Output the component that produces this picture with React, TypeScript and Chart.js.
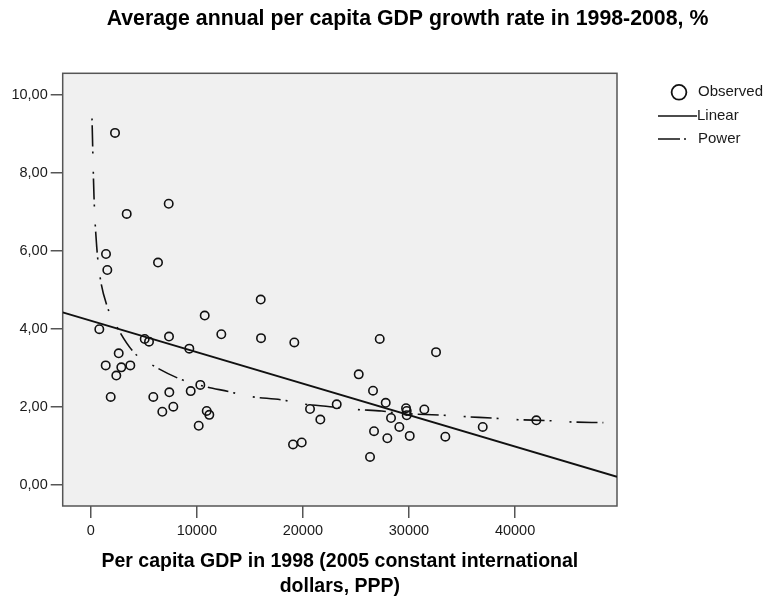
import { useEffect, useRef } from "react";
import { Chart, registerables } from "chart.js";

Chart.register(...registerables);

const chartTitle = "Average annual per capita GDP growth rate in 1998-2008, %";
const xAxisTitle = ["Per capita GDP in 1998 (2005 constant international", "dollars, PPP)"];
const seriesLabels = ["Observed", "Linear", "Power"];

const xTicks = [0, 10000, 20000, 30000, 40000];
const xTickLabels = ["0", "10000", "20000", "30000", "40000"];
const yTicks = [0, 2, 4, 6, 8, 10];
const yTickLabels = ["0,00", "2,00", "4,00", "6,00", "8,00", "10,00"];

// Observed: per capita GDP 1998 vs average annual growth rate
const observedGdp = [
  2291, 3394, 7353, 1442, 1565, 6344, 16026, 10747, 811, 5091,
  5496, 7381, 9295, 12312, 16054, 19193, 2640, 1414, 2885, 3733,
  2413, 1885, 5901, 7410, 9427, 10332, 6750, 7787, 10935, 11180,
  10181, 19071, 19891, 20673, 21645, 27244, 32551, 25264, 26612, 27809,
  23190, 29724, 29789, 29789, 31448, 28309, 29092, 26707, 27961, 30072,
  33429, 36954, 42007, 26330,
];
const observedGrowth = [
  9.03, 6.95, 7.21, 5.92, 5.51, 5.70, 4.75, 4.34, 3.99, 3.74,
  3.67, 3.80, 3.49, 3.86, 3.76, 3.65, 3.37, 3.06, 3.01, 3.06,
  2.80, 2.25, 2.25, 2.37, 2.40, 2.56, 1.87, 2.00, 1.89, 1.79,
  1.51, 1.03, 1.08, 1.94, 1.67, 3.74, 3.40, 2.83, 2.41, 2.10,
  2.06, 1.96, 1.89, 1.78, 1.93, 1.71, 1.48, 1.37, 1.19, 1.25,
  1.23, 1.48, 1.65, 0.71,
];

// Linear fit line, read at the plot edges
const linearGdp = [-2640, 49610];
const linearGrowth = [4.42, 0.2];

// Power fit curve
const powerGdp = [
  123, 311, 566, 877, 1508, 2291, 4016, 5430, 8418, 10587,
  13132, 14829, 18128, 20013, 22558, 24915, 27433, 28846, 33240, 34974,
  38274, 40000, 43298, 45024, 48323,
];
const powerGrowth = [
  9.4, 7.39, 6.11, 5.34, 4.61, 4.14, 3.41, 3.13, 2.71, 2.53,
  2.38, 2.27, 2.17, 2.07, 2.0, 1.93, 1.89, 1.84, 1.78, 1.75,
  1.7, 1.67, 1.64, 1.61, 1.59,
];

const FONT = "'Liberation Sans', Arial, Helvetica, sans-serif";
const AXIS_COLOR = "#555555";
const TEXT_COLOR = "#1a1a1a";
const POWER_DASH = [2, 5, 21, 5, 2, 18];

const decorPlugin = {
  id: "decor",
  beforeDraw(chart: any) {
    const { ctx, chartArea: a } = chart;
    ctx.save();
    ctx.fillStyle = "#ffffff";
    ctx.fillRect(0, 0, chart.width, chart.height);
    ctx.fillStyle = "#f0f0f0";
    ctx.fillRect(a.left, a.top, a.right - a.left, a.bottom - a.top);
    ctx.restore();
  },
  beforeDatasetsDraw(chart: any) {
    const { ctx, chartArea: a } = chart;
    ctx.save();
    ctx.strokeStyle = AXIS_COLOR;
    ctx.lineWidth = 1.5;
    ctx.strokeRect(a.left, a.top, a.right - a.left, a.bottom - a.top);
    ctx.restore();
  },
  afterDraw(chart: any) {
    const { ctx, chartArea: a } = chart;
    ctx.save();
    // main title
    ctx.fillStyle = "#000";
    ctx.font = `bold 21.3px ${FONT}`;
    ctx.textAlign = "center";
    ctx.textBaseline = "alphabetic";
    ctx.fillText(chartTitle, 407.5, 25);

    // legend
    const ds = chart.data.datasets;
    ctx.font = `15px ${FONT}`;
    ctx.textAlign = "left";
    ctx.textBaseline = "middle";
    ctx.fillStyle = TEXT_COLOR;
    const tx = a.right + 81;
    // Observed
    const y0 = a.top + 19;
    ctx.strokeStyle = "#111";
    ctx.lineWidth = 1.8;
    ctx.beginPath();
    ctx.arc(a.right + 62, y0, 7.4, 0, Math.PI * 2);
    ctx.stroke();
    ctx.fillText(ds[0].label, tx, y0);
    // Linear
    const y1 = a.top + 42.7;
    ctx.lineWidth = 1.6;
    ctx.beginPath();
    ctx.moveTo(a.right + 41, y1);
    ctx.lineTo(a.right + 80, y1);
    ctx.stroke();
    ctx.fillText(ds[1].label, tx - 1, y1);
    // Power
    const y2 = a.top + 65.7;
    ctx.setLineDash([22, 4, 2, 100]);
    ctx.beginPath();
    ctx.moveTo(a.right + 41, y2);
    ctx.lineTo(a.right + 71, y2);
    ctx.stroke();
    ctx.setLineDash([]);
    ctx.fillText(ds[2].label, tx, y2);
    ctx.restore();
  },
};

export default function App() {
  const canvasRef = useRef<HTMLCanvasElement | null>(null);

  useEffect(() => {
    if (!canvasRef.current) return;
    const observed = observedGdp.map((x, i) => ({ x, y: observedGrowth[i] }));
    const linear = linearGdp.map((x, i) => ({ x, y: linearGrowth[i] }));
    const power = powerGdp.map((x, i) => ({ x, y: powerGrowth[i] }));

    const chart = new Chart(canvasRef.current, {
      type: "scatter",
      data: {
        datasets: [
          {
            label: seriesLabels[0],
            data: observed,
            pointRadius: 4.2,
            pointBorderWidth: 1.6,
            pointBorderColor: "#111",
            pointBackgroundColor: "rgba(0,0,0,0)",
            showLine: false,
            order: 0,
          },
          {
            label: seriesLabels[1],
            data: linear,
            showLine: true,
            pointRadius: 0,
            borderColor: "#111",
            borderWidth: 1.8,
            order: 1,
          },
          {
            label: seriesLabels[2],
            data: power,
            showLine: true,
            pointRadius: 0,
            borderColor: "#111",
            borderWidth: 1.6,
            borderDash: POWER_DASH,
            cubicInterpolationMode: "monotone",
            order: 2,
          },
        ],
      } as any,
      options: {
        animation: false,
        responsive: true,
        maintainAspectRatio: false,
        layout: { padding: { top: 73.3, right: 148, left: 0, bottom: 0 } },
        plugins: {
          legend: { display: false },
          tooltip: { enabled: false },
          title: { display: false },
        },
        scales: {
          x: {
            type: "linear",
            min: -2640,
            max: 49610,
            afterFit: (s: any) => {
              s.height = 93;
            },
            afterBuildTicks: (s: any) => {
              s.ticks = xTicks.map((v) => ({ value: v }));
            },
            ticks: {
              autoSkip: false,
              maxRotation: 0,
              padding: 4,
              color: TEXT_COLOR,
              font: { family: FONT, size: 14.5 },
              callback: (v: any) => xTickLabels[xTicks.indexOf(Number(v))] ?? "",
            },
            grid: {
              display: true,
              drawOnChartArea: false,
              drawTicks: true,
              tickLength: 12,
              color: AXIS_COLOR,
              lineWidth: 1.5,
            },
            border: { display: false },
            title: {
              display: true,
              text: xAxisTitle,
              color: "#000",
              font: { family: FONT, size: 19.5, weight: "bold", lineHeight: 1.28 },
              padding: { top: 0, bottom: 0 },
            },
          },
          y: {
            type: "linear",
            min: -0.55,
            max: 10.56,
            afterFit: (s: any) => {
              s.width = 62.7;
            },
            afterBuildTicks: (s: any) => {
              s.ticks = yTicks.map((v) => ({ value: v }));
            },
            ticks: {
              autoSkip: false,
              padding: 3,
              color: TEXT_COLOR,
              font: { family: FONT, size: 14.5 },
              callback: (v: any) => yTickLabels[yTicks.indexOf(Number(v))] ?? "",
            },
            grid: {
              display: true,
              drawOnChartArea: false,
              drawTicks: true,
              tickLength: 12,
              color: AXIS_COLOR,
              lineWidth: 1.5,
            },
            border: { display: false },
          },
        },
      } as any,
      plugins: [decorPlugin],
    });
    return () => chart.destroy();
  }, []);

  return (
    <div
      style={{
        position: "fixed",
        left: 0,
        top: 0,
        width: 765,
        height: 599,
        background: "#fff",
      }}
    >
      <canvas ref={canvasRef} />
    </div>
  );
}
